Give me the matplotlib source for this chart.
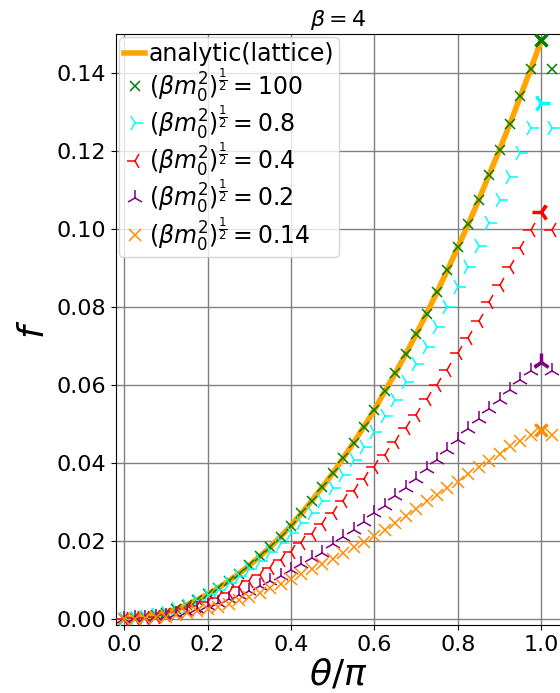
import numpy as np
import matplotlib
matplotlib.use('Agg')
import matplotlib.pyplot as plt

# theta/pi grid (step 0.025) plus one point past pi
theta = [0.0, 0.025, 0.05, 0.075, 0.1, 0.125, 0.15, 0.175, 0.2, 0.225,
         0.25, 0.275, 0.3, 0.325, 0.35, 0.375, 0.4, 0.425, 0.45, 0.475,
         0.5, 0.525, 0.55, 0.575, 0.6, 0.625, 0.65, 0.675, 0.7, 0.725,
         0.75, 0.775, 0.8, 0.825, 0.85, 0.875, 0.9, 0.925, 0.95, 0.975,
         1.0, 1.025]

# analytic(lattice) == m=100 points
f_analytic = [0.0, 0.0001, 0.0004, 0.0009, 0.0016, 0.0025, 0.0036, 0.0049, 0.0063, 0.0079,
              0.0097, 0.0116, 0.0137, 0.0160, 0.0184, 0.0211, 0.0239, 0.0271, 0.0303, 0.0338,
              0.0373, 0.0412, 0.0452, 0.0493, 0.0536, 0.0584, 0.0630, 0.0679, 0.0730, 0.0783,
              0.0838, 0.0894, 0.0953, 0.1012, 0.1074, 0.1139, 0.1203, 0.1270, 0.1340, 0.1410,
              0.1484]
f_100 = f_analytic + [0.1410]
f_08 = [0.0, 0.0001, 0.0004, 0.0009, 0.0015, 0.0024, 0.0034, 0.0046, 0.0060, 0.0075,
        0.0091, 0.0109, 0.0128, 0.0149, 0.0171, 0.0194, 0.0220, 0.0245, 0.0272, 0.0303,
        0.0335, 0.0369, 0.0407, 0.0440, 0.0480, 0.0519, 0.0562, 0.0608, 0.0654, 0.0698,
        0.0749, 0.0800, 0.0850, 0.0903, 0.0957, 0.1016, 0.1074, 0.1134, 0.1195, 0.1258,
        0.1322, 0.1258]
f_04 = [0.0, 0.0001, 0.0003, 0.0006, 0.0011, 0.0017, 0.0024, 0.0033, 0.0043, 0.0054,
        0.0067, 0.0081, 0.0096, 0.0113, 0.0131, 0.0151, 0.0172, 0.0194, 0.0218, 0.0243,
        0.0272, 0.0301, 0.0329, 0.0358, 0.0390, 0.0420, 0.0454, 0.0489, 0.0523, 0.0563,
        0.0600, 0.0638, 0.0681, 0.0719, 0.0765, 0.0813, 0.0856, 0.0903, 0.0950, 0.0997,
        0.1044, 0.0997]
f_02 = [0.0, 0.0001, 0.0002, 0.0004, 0.0008, 0.0012, 0.0018, 0.0024, 0.0032, 0.0040,
        0.0050, 0.0060, 0.0072, 0.0084, 0.0097, 0.0110, 0.0125, 0.0140, 0.0155, 0.0170,
        0.0191, 0.0211, 0.0228, 0.0249, 0.0271, 0.0290, 0.0315, 0.0335, 0.0358, 0.0384,
        0.0407, 0.0433, 0.0459, 0.0486, 0.0512, 0.0537, 0.0561, 0.0587, 0.0613, 0.0636,
        0.0659, 0.0636]
f_014 = [0.0, 0.00005, 0.0002, 0.0004, 0.0006, 0.0010, 0.0014, 0.0019, 0.0024, 0.0031,
         0.0039, 0.0048, 0.0057, 0.0067, 0.0078, 0.0089, 0.0101, 0.0114, 0.0127, 0.0140,
         0.0154, 0.0168, 0.0183, 0.0197, 0.0213, 0.0229, 0.0247, 0.0264, 0.0281, 0.0301,
         0.0318, 0.0335, 0.0352, 0.0372, 0.0389, 0.0406, 0.0423, 0.0442, 0.0455, 0.0472,
         0.0484, 0.0472]

masses = ['100', '0.8', '0.4', '0.2', '0.14']
series = [f_100, f_08, f_04, f_02, f_014]
colors = ['green', 'cyan', 'red', 'purple', 'darkorange']
markers = ['x', '4', '3', '2', 'x']
sizes = [7.5, 12, 12, 12, 8]

fig = plt.figure(figsize=(5.6, 6.93), dpi=100)
ax = fig.add_axes([0.207, 0.098, 0.793, 0.853])

x = np.array(theta)
ax.plot(x[:len(f_analytic)], f_analytic, '-', color='orange', lw=4, label='analytic(lattice)', zorder=2)
for m, f, c, mk, s in zip(masses, series, colors, markers, sizes):
    f = np.array(f)
    ax.plot(x, f, linestyle='none', marker=mk, color=c, ms=s, mew=1.1,
            label=r'$(\beta m_0^2)^{\frac{1}{2}}=%s$' % m, zorder=3)
    # point at theta = pi drawn heavier
    ax.plot(x[40], f[40], linestyle='none', marker=mk, color=c, ms=s + 1, mew=2.5, zorder=3)

ax.set_xlim(-0.02, 1.045)
ax.set_ylim(-0.0016, 0.15)
ax.spines['right'].set_visible(False)
ax.set_xticks([0.0, 0.2, 0.4, 0.6, 0.8, 1.0])
ax.set_yticks([0.0, 0.02, 0.04, 0.06, 0.08, 0.10, 0.12, 0.14])
ax.set_yticklabels(['0.00', '0.02', '0.04', '0.06', '0.08', '0.10', '0.12', '0.14'])
ax.tick_params(labelsize=16)
ax.grid(color='0.5', lw=1)
ax.set_axisbelow(True)
ax.set_xlabel(r'$\theta/\pi$', fontsize=26, labelpad=2)
ax.set_ylabel(r'$f$', fontsize=26)
ax.set_title(r'$\beta=4$', fontsize=16)
ax.legend(loc='upper left', fontsize=17, handlelength=0.9, handletextpad=0.15,
          borderaxespad=0.15, borderpad=0.2, labelspacing=0.0)

fig.savefig('out.png', dpi=100)
